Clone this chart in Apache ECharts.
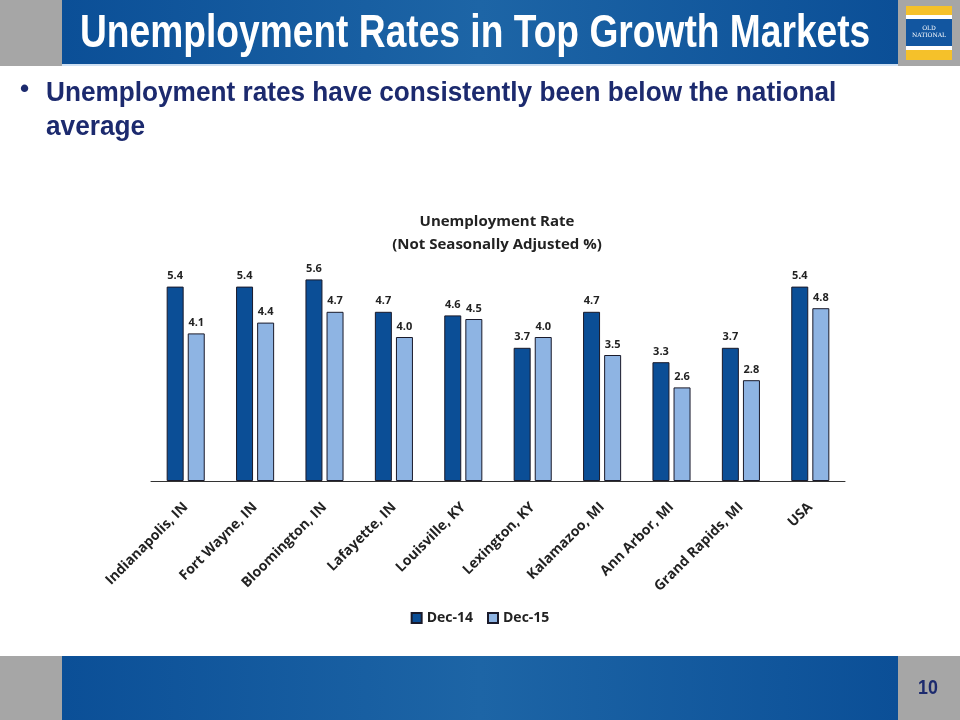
<!DOCTYPE html>
<html><head><meta charset="utf-8">
<script src="https://cdn.jsdelivr.net/npm/echarts@6/dist/echarts.min.js"></script>
<style>html,body{margin:0;padding:0;background:#fff}#c{width:960px;height:720px}</style>
</head><body><div id="c"></div>
<script>
const categories = ["Indianapolis, IN","Fort Wayne, IN","Bloomington, IN","Lafayette, IN","Louisville, KY","Lexington, KY","Kalamazoo, MI","Ann Arbor, MI","Grand Rapids, MI","USA"];
const dec14 = [5.4,5.4,5.6,4.7,4.6,3.7,4.7,3.3,3.7,5.4];
const dec15 = [4.1,4.4,4.7,4.0,4.5,4.0,3.5,2.6,2.8,4.8];
const seriesNames = ["Dec-14","Dec-15"];

const chart = echarts.init(document.getElementById('c'));
const narrow = '"Liberation Sans",Arial,sans-serif';
const body = '"Open Sans","Noto Sans",sans-serif';
const labelStyle = {show:true, position:'top', formatter: p => p.value.toFixed(1), fontFamily: body, fontWeight:'bold', fontSize:11, color:'#222', distance:5};
const band = () => new echarts.graphic.LinearGradient(0,0,1,0,[{offset:0,color:'#0b4f97'},{offset:0.5,color:'#1d65a6'},{offset:1,color:'#0b4f97'}]);
chart.setOption({
  animation:false,
  graphic:[
    {type:'rect', shape:{x:0,y:0,width:960,height:66}, style:{fill:'#a6a6a6'}, z:-10},
    {type:'rect', shape:{x:62,y:0,width:836,height:64}, style:{fill:band()}, z:-9},
    {type:'rect', shape:{x:62,y:64,width:836,height:2}, style:{fill:'#cfe0f2'}, z:-9},
    {type:'text', x:80, y:11, scaleX:0.808, style:{text:'Unemployment Rates in Top Growth Markets', fill:'#fff', font:'bold 46px '+narrow, verticalAlign:'top'}},
    {type:'rect', shape:{x:906,y:6,width:46,height:54}, style:{fill:'#f5c12a'}},
    {type:'rect', shape:{x:906,y:15,width:46,height:4}, style:{fill:'#fff'}},
    {type:'rect', shape:{x:906,y:19,width:46,height:27}, style:{fill:'#1256a0'}},
    {type:'rect', shape:{x:906,y:46,width:46,height:4}, style:{fill:'#fff'}},
    {type:'text', x:929, y:28, style:{text:'OLD', fill:'#fff', font:'6px "DejaVu Serif",serif', align:'center', verticalAlign:'middle'}},
    {type:'text', x:929, y:35, style:{text:'NATIONAL', fill:'#fff', font:'6px "DejaVu Serif",serif', align:'center', verticalAlign:'middle'}},
    {type:'text', x:20, y:77, style:{text:'•', fill:'#1c2a6e', font:'bold 26px '+narrow, verticalAlign:'top'}},
    {type:'text', x:46, y:77, scaleX:0.97, style:{text:'Unemployment rates have consistently been below the national\naverage', fill:'#1c2a6e', font:'bold 27px '+narrow, lineHeight:34, verticalAlign:'top'}},
    {type:'rect', shape:{x:0,y:656,width:960,height:64}, style:{fill:'#a6a6a6'}, z:-10},
    {type:'rect', shape:{x:62,y:656,width:836,height:64}, style:{fill:band()}, z:-9},
    {type:'text', x:928, y:688, scaleX:0.85, style:{text:'10', fill:'#1c2a6e', font:'bold 21px '+narrow, align:'center', verticalAlign:'middle'}}
  ],
  title:{text:'Unemployment Rate\n(Not Seasonally Adjusted %)', left:492, textAlign:'center', top:205,
    textStyle:{fontFamily:body, fontWeight:'bold', fontSize:15, color:'#222', lineHeight:23}},
  legend:{data:seriesNames, bottom:90, left:'center', icon:'rect', itemWidth:10, itemHeight:10, itemGap:14,
    textStyle:{fontFamily:body, fontWeight:'bold', fontSize:14, color:'#222'}},
  grid:{left:151, right:115, top:265, bottom:239, containLabel:false},
  xAxis:{type:'category', data:categories,
    axisLine:{lineStyle:{color:'#333', width:1}}, axisTick:{show:false},
    axisLabel:{rotate:45, interval:0, fontFamily:body, fontWeight:'bold', fontSize:14, color:'#222', margin:24}},
  yAxis:{type:'value', min:0, max:6, show:false, splitLine:{show:false}},
  series:[
    {name:seriesNames[0], type:'bar', data:dec14, barWidth:17, barGap:'24%', label:labelStyle,
      itemStyle:{color:'#0b4e96', borderColor:'#1a1a2a', borderWidth:1}},
    {name:seriesNames[1], type:'bar', data:dec15, barWidth:17, label:labelStyle,
      itemStyle:{color:'#8eb4e3', borderColor:'#1a1a2a', borderWidth:1}}
  ]
});
</script></body></html>
